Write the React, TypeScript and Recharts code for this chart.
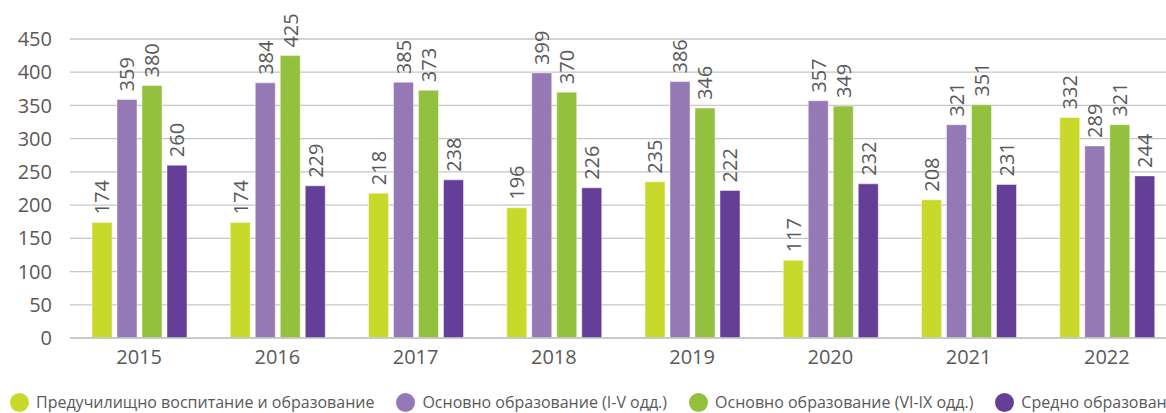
import React from "react";
import { BarChart, Bar, XAxis, YAxis, CartesianGrid, LabelList } from "recharts";

const years = ["2015", "2016", "2017", "2018", "2019", "2020", "2021", "2022"];
const preschool = [174, 174, 218, 196, 235, 117, 208, 332];
const primary = [359, 384, 385, 399, 386, 357, 321, 289];
const lowerSecondary = [380, 425, 373, 370, 346, 349, 351, 321];
const secondary = [260, 229, 238, 226, 222, 232, 231, 244];
const yTicks = [0, 50, 100, 150, 200, 250, 300, 350, 400, 450];

const series = [
  { key: "preschool", name: "Предучилищно воспитание и образование", color: "#c8d92c" },
  { key: "primary", name: "Основно образование (I-V одд.)", color: "#9579b5" },
  { key: "lowerSecondary", name: "Основно образование (VI-IX одд.)", color: "#93c03f" },
  { key: "secondary", name: "Средно образование", color: "#653e97" },
];

const data = years.map((y, i) => ({
  year: y,
  preschool: preschool[i],
  primary: primary[i],
  lowerSecondary: lowerSecondary[i],
  secondary: secondary[i],
}));

const FONT = "'Open Sans', sans-serif";
const TEXT = "#595959";

const RotLabel = (props: any) => {
  const { x, y, width, value } = props;
  const cx = Number(x) + Number(width) / 2;
  const cy = Number(y) - 8;
  return (
    <text
      x={cx}
      y={cy}
      transform={`rotate(-90, ${cx}, ${cy})`}
      textAnchor="start"
      dominantBaseline="central"
      fontSize={20}
      fontFamily={FONT}
      fill={TEXT}
    >
      {value}
    </text>
  );
};

export default function App() {
  return (
    <div
      style={{
        position: "absolute",
        left: 0,
        top: 0,
        width: 1166,
        height: 413,
        overflow: "hidden",
        background: "#fff",
        fontFamily: FONT,
      }}
    >
      <BarChart
        width={1176}
        height={413}
        data={data}
        margin={{ top: 39, right: 0, left: 0, bottom: 45 }}
        barCategoryGap={22}
        barGap={5}
      >
        <CartesianGrid vertical={false} stroke="#c6c6c6" strokeWidth={1.3} />
        <XAxis
          dataKey="year"
          height={30}
          tickLine={false}
          axisLine={{ stroke: "#c6c6c6", strokeWidth: 1.3 }}
          tickSize={0}
          tickMargin={12}
          tick={{ fontSize: 20, fill: TEXT, fontFamily: FONT }}
        />
        <YAxis
          width={70}
          domain={[0, 450]}
          ticks={yTicks}
          axisLine={false}
          tickLine={false}
          tickSize={0}
          tickMargin={18}
          tick={{ fontSize: 20, fill: TEXT, fontFamily: FONT }}
        />
        {series.map((s) => (
          <Bar
            key={s.key}
            dataKey={s.key}
            name={s.name}
            fill={s.color}
            stroke="rgba(255,255,255,0.45)"
            strokeWidth={1}
            isAnimationActive={false}
          >
            <LabelList dataKey={s.key} content={<RotLabel />} />
          </Bar>
        ))}
      </BarChart>
      <div
        style={{
          position: "absolute",
          left: 10,
          top: 393,
          display: "flex",
          whiteSpace: "nowrap",
          alignItems: "center",
          fontSize: 16,
          color: TEXT,
          lineHeight: "19px",
        }}
      >
        {series.map((s) => (
          <div key={s.key} style={{ display: "flex", alignItems: "center", marginRight: 22 }}>
            <span
              style={{
                display: "inline-block",
                width: 19,
                height: 19,
                borderRadius: "50%",
                background: s.color,
                marginRight: 7,
              }}
            />
            <span>{s.name}</span>
          </div>
        ))}
      </div>
    </div>
  );
}
